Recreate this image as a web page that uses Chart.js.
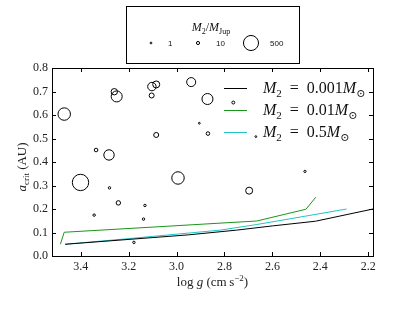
<!DOCTYPE html>
<html>
<head>
<meta charset="utf-8">
<script src="https://cdn.jsdelivr.net/npm/chart.js@4.4.1/dist/chart.umd.min.js"></script>
<style>
  html, body { margin: 0; padding: 0; background: #fff; }
</style>
</head>
<body>
<canvas id="myChart" width="415" height="312"></canvas>
<script>
// stars: surface gravity, critical separation, companion mass
const starLogg = [3.469, 3.260, 3.250, 3.103, 3.085, 3.104, 3.085, 3.401, 3.282, 3.336,
                  3.280, 3.243, 3.132, 3.344, 3.138, 3.178, 2.939, 2.871, 2.763, 2.905,
                  2.869, 2.994, 2.697, 2.669, 2.464];
const starAcrit = [0.604, 0.699, 0.679, 0.721, 0.730, 0.683, 0.515, 0.313, 0.430, 0.451,
                   0.290, 0.226, 0.215, 0.174, 0.157, 0.058, 0.740, 0.668, 0.653, 0.565,
                   0.521, 0.332, 0.278, 0.508, 0.360];
const starMass = [330, 70, 250, 135, 88, 38, 38, 600, 220, 15,
                  4, 27, 4, 4, 4, 4, 158, 250, 8, 1,
                  15, 330, 88, 1, 3];

// critical separation curves
const loggM001 = [3.465, 2.95, 2.75, 2.60, 2.42, 2.18];
const acritM001 = [0.050, 0.090, 0.110, 0.128, 0.148, 0.200];
const loggM01 = [3.485, 3.469, 2.665, 2.460, 2.419];
const acritM01 = [0.050, 0.101, 0.149, 0.199, 0.250];
const loggM05 = [3.465, 3.200, 2.818, 2.665, 2.460, 2.290];
const acritM05 = [0.050, 0.074, 0.110, 0.134, 0.170, 0.200];

const xTicks = [3.4, 3.2, 3.0, 2.8, 2.6, 2.4, 2.2];
const yTicks = [0.0, 0.1, 0.2, 0.3, 0.4, 0.5, 0.6, 0.7, 0.8];
const legendMasses = [1, 10, 500];
const lineLabels = ['0.001', '0.01', '0.5'];
const lineColors = ['#000000', '#1a961a', '#20c4c8'];

const SERIF = '"Liberation Serif", "DejaVu Serif", serif';

// marker radius from companion mass
const radiusFor = m => 0.31 * Math.sqrt(m) + 0.6;

const toPoints = (xs, ys) => xs.map((x, i) => ({ x: x, y: ys[i] }));

// draws text made of pieces: [text, kind] kind = r | i | sub | sup
function richText(ctx, parts, x, y, size, align) {
  const fontFor = kind => {
    if (kind === 'i') return 'italic ' + size + 'px ' + SERIF;
    if (kind === 'sub' || kind === 'sup') return Math.round(size * 0.7) + 'px ' + SERIF;
    return size + 'px ' + SERIF;
  };
  let total = 0;
  const widths = parts.map(p => {
    ctx.font = fontFor(p[1]);
    const w = ctx.measureText(p[0]).width;
    total += w;
    return w;
  });
  let cx = align === 'center' ? x - total / 2 : x;
  ctx.textAlign = 'left';
  ctx.textBaseline = 'alphabetic';
  parts.forEach((p, i) => {
    ctx.font = fontFor(p[1]);
    let dy = 0;
    if (p[1] === 'sub') dy = size * 0.22;
    if (p[1] === 'sup') dy = -size * 0.4;
    ctx.fillText(p[0], cx, y + dy);
    cx += widths[i];
  });
}

const decorations = {
  id: 'decorations',
  afterDraw(chart) {
    const ctx = chart.ctx;
    const area = chart.chartArea;
    const xs = chart.scales.x;
    const ys = chart.scales.y;
    ctx.save();

    // frame and inward ticks on all sides
    ctx.strokeStyle = '#000';
    ctx.lineWidth = 1;
    ctx.strokeRect(Math.round(area.left) + 0.5, Math.round(area.top) + 0.5,
      Math.round(area.right - area.left), Math.round(area.bottom - area.top));
    ctx.beginPath();
    xTicks.forEach(v => {
      const px = Math.round(xs.getPixelForValue(v)) + 0.5;
      ctx.moveTo(px, area.bottom); ctx.lineTo(px, area.bottom - 4);
      ctx.moveTo(px, area.top); ctx.lineTo(px, area.top + 4);
    });
    yTicks.forEach(v => {
      const py = Math.round(ys.getPixelForValue(v)) + 0.5;
      ctx.moveTo(area.left, py); ctx.lineTo(area.left + 4, py);
      ctx.moveTo(area.right, py); ctx.lineTo(area.right - 4, py);
    });
    ctx.stroke();

    // axis titles
    ctx.fillStyle = '#222';
    richText(ctx, [['log ', 'r'], ['g', 'i'], [' (cm\u2009s', 'r'], ['\u22122', 'sup'], [')', 'r']],
      (area.left + area.right) / 2, 286, 13, 'center');
    ctx.save();
    ctx.translate(26, (area.top + area.bottom) / 2 + 5);
    ctx.rotate(-Math.PI / 2);
    richText(ctx, [['a', 'i'], ['crit', 'sub'], [' (AU)', 'r']], 0, 0, 13, 'center');
    ctx.restore();

    // line legend inside the axes, no frame
    lineLabels.forEach((lab, i) => {
      const y = 88 + i * 22;
      ctx.strokeStyle = lineColors[i];
      ctx.lineWidth = 1;
      ctx.beginPath();
      ctx.moveTo(224, y + 0.5); ctx.lineTo(247, y + 0.5);
      ctx.stroke();
      ctx.fillStyle = '#111';
      richText(ctx, [['M', 'i'], ['2', 'sub'], ['\u2002=\u2002' + lab, 'r'], ['M', 'i'], ['\u2299', 'sub']],
        263, y + 5, 16, 'left');
    });

    // mass legend above the axes
    ctx.strokeStyle = '#000';
    ctx.lineWidth = 1;
    ctx.strokeRect(126.5, 6.5, 173, 57);
    ctx.fillStyle = '#111';
    richText(ctx, [['M', 'i'], ['2', 'sub'], ['/', 'r'], ['M', 'i'], ['Jup', 'sub']],
      211, 31, 12, 'center');
    const markX = [151, 198, 251];
    const labelX = [168, 216, 270];
    legendMasses.forEach((m, i) => {
      ctx.beginPath();
      ctx.arc(markX[i], 43, radiusFor(m), 0, Math.PI * 2);
      ctx.stroke();
      ctx.font = '8px "Liberation Sans", Arial, sans-serif';
      ctx.textAlign = 'left';
      ctx.textBaseline = 'middle';
      ctx.fillText(String(m), labelX[i], 43.5);
    });
    ctx.restore();
  }
};

const ctx = document.getElementById('myChart').getContext('2d');
new Chart(ctx, {
  type: 'scatter',
  data: {
    datasets: [
      {
        label: 'M2 = 0.001 Msun',
        data: toPoints(loggM001, acritM001),
        showLine: true, borderColor: lineColors[0], borderWidth: 1, pointRadius: 0
      },
      {
        label: 'M2 = 0.01 Msun',
        data: toPoints(loggM01, acritM01),
        showLine: true, borderColor: lineColors[1], borderWidth: 1, pointRadius: 0
      },
      {
        label: 'M2 = 0.5 Msun',
        data: toPoints(loggM05, acritM05),
        showLine: true, borderColor: lineColors[2], borderWidth: 1, pointRadius: 0
      },
      {
        label: 'stars',
        data: toPoints(starLogg, starAcrit),
        pointRadius: c => radiusFor(starMass[c.dataIndex]),
        pointBackgroundColor: 'rgba(0,0,0,0)',
        pointBorderColor: '#000',
        pointBorderWidth: 1
      }
    ]
  },
  options: {
    responsive: false,
    animation: false,
    layout: { padding: { top: 68, right: 42, left: 0, bottom: 0 } },
    plugins: { legend: { display: false }, tooltip: { enabled: false } },
    scales: {
      x: {
        type: 'linear', reverse: true, min: 2.18, max: 3.52,
        afterBuildTicks: s => { s.ticks = xTicks.map(v => ({ value: v })); },
        afterFit: s => { s.height = 56; },
        grid: { display: false, drawTicks: false },
        border: { display: false },
        ticks: { padding: 4, color: '#222', font: { family: SERIF, size: 12 },
          callback: v => v.toFixed(1) }
      },
      y: {
        type: 'linear', min: 0, max: 0.8,
        afterBuildTicks: s => { s.ticks = yTicks.map(v => ({ value: v })); },
        afterFit: s => { s.width = 52; },
        grid: { display: false, drawTicks: false },
        border: { display: false },
        ticks: { padding: 4, color: '#222', font: { family: SERIF, size: 12 },
          callback: v => v.toFixed(1) }
      }
    }
  },
  plugins: [decorations]
});
</script>
</body>
</html>
